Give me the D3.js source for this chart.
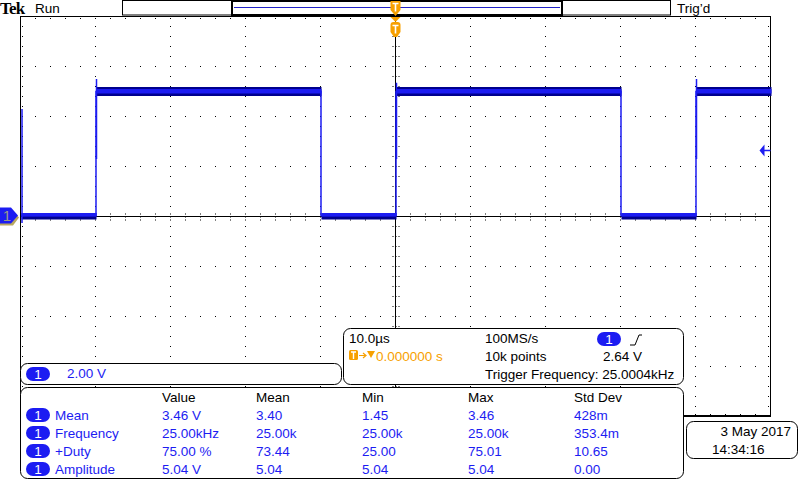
<!DOCTYPE html>
<html>
<head>
<meta charset="utf-8">
<script src="https://cdn.jsdelivr.net/npm/d3@7"></script>
<style>
body { margin: 0; background: #fff; }
svg text { font-family: "Liberation Sans", Arial, sans-serif; font-size: 13.5px; }
</style>
</head>
<body>
<svg id="scope" width="800" height="480"></svg>
<script>
// waveform (time in us, volts)
const waveT = [-50, -40, -10, 0, 30, 40, 50]
const waveV = [0.04, 5.0, 0.04, 5.0, 0.04, 5.0, 5.0]
const bandMax = [0.14, 5.18, 0.14, 5.18, 0.14, 5.18, 5.18]
const bandMin = [-0.12, 4.82, -0.12, 4.82, -0.12, 4.82, 4.82]
const innerMax = [0.14, 5.1, 0.14, 5.1, 0.14, 5.1, 5.1]
const innerMin = [0.0, 4.92, 0.0, 4.92, 0.0, 4.92, 4.92]
const riseT = [-40, 0, 40]
const overshootV = [5.5, 5.35, 5.5]
const startGlitch = [-0.26, 4.3]
const trigLevel = 2.64

// axes: 10 div x 10us, 8 div x 2V
const timeTicks = d3.range(-50, 51, 10)
const voltTicks = d3.range(-8, 9, 2)

// measurement table
const measCols = ["Value", "Mean", "Min", "Max", "Std Dev"]
const measNames = ["Mean", "Frequency", "+Duty", "Amplitude"]
const measValue = ["3.46 V", "25.00kHz", "75.00 %", "5.04 V"]
const measMean = ["3.40", "25.00k", "73.44", "5.04"]
const measMin = ["1.45", "25.00k", "25.00", "5.04"]
const measMax = ["3.46", "25.00k", "75.01", "5.04"]
const measStd = ["428m", "353.4m", "10.65", "0.00"]

const BLUE = "#1c1cf2"
const NAVY = "#00008e"
const ORANGE = "#f7a000"

const svg = d3.select("#scope")

const x = d3.scaleLinear().domain([-50, 50]).range([20.5, 770.5])
const y = d3.scaleLinear().domain([-8, 8]).range([416.5, 16.5])

// ---------- graticule ----------
const grid = svg.append("g")
const minorT = d3.range(-50, 50.01, 2)
const minorV = d3.range(-8, 8.01, 0.4)

// dotted division lines
timeTicks.slice(1, -1).forEach(t => {
    if (t === 0) return
    minorV.forEach(v => grid.append("rect").attr("x", Math.floor(x(t))).attr("y", Math.floor(y(v))).attr("width", 1).attr("height", 1))
})
voltTicks.slice(1, -1).forEach(v => {
    if (v === 0) return
    minorT.forEach(t => grid.append("rect").attr("x", Math.floor(x(t))).attr("y", Math.floor(y(v))).attr("width", 1).attr("height", 1))
})
// ticks along the border
minorT.forEach(t => {
    grid.append("rect").attr("x", Math.floor(x(t))).attr("y", Math.floor(y(8)) + 2).attr("width", 1).attr("height", 1)
    grid.append("rect").attr("x", Math.floor(x(t))).attr("y", Math.floor(y(-8)) - 2).attr("width", 1).attr("height", 1)
})
minorV.forEach(v => {
    grid.append("rect").attr("x", Math.floor(x(-50)) + 2).attr("y", Math.floor(y(v))).attr("width", 1).attr("height", 1)
    grid.append("rect").attr("x", Math.floor(x(50)) - 2).attr("y", Math.floor(y(v))).attr("width", 1).attr("height", 1)
})
// center cross with ticks
grid.append("line").attr("x1", x(-50)).attr("x2", x(50)).attr("y1", y(0)).attr("y2", y(0)).attr("stroke", "#000")
grid.append("line").attr("x1", x(0)).attr("x2", x(0)).attr("y1", y(8)).attr("y2", y(-8)).attr("stroke", "#000")
minorT.forEach(t => {
    grid.append("line").attr("x1", x(t)).attr("x2", x(t)).attr("y1", y(0) - 3).attr("y2", y(0) + 4)
        .attr("stroke", "#000").attr("stroke-dasharray", "1,2")
})
minorV.forEach(v => {
    grid.append("line").attr("y1", y(v)).attr("y2", y(v)).attr("x1", x(0) - 3).attr("x2", x(0) + 4)
        .attr("stroke", "#000").attr("stroke-dasharray", "1,2")
})
// border
grid.append("rect").attr("x", x(-50)).attr("y", y(8)).attr("width", x(50) - x(-50)).attr("height", y(-8) - y(8))
    .attr("fill", "none").attr("stroke", "#000")
grid.append("line").attr("x1", x(-50)).attr("x2", x(50)).attr("y1", y(-8) - 1).attr("y2", y(-8) - 1).attr("stroke", "#000")

// ---------- waveform ----------
const pts = waveT.map((t, i) => ({t, v: waveV[i], hi: bandMax[i], lo: bandMin[i], ih: innerMax[i], il: innerMin[i]}))
const wave = svg.append("g")
wave.append("path").datum(pts)
    .attr("d", d3.area().curve(d3.curveStepAfter).x(d => x(d.t) + 1).y0(d => y(d.lo)).y1(d => y(d.hi)))
    .attr("fill", NAVY)
wave.append("path").datum(pts)
    .attr("d", d3.area().curve(d3.curveStepAfter).x(d => x(d.t) + 1).y0(d => y(d.il)).y1(d => y(d.ih)))
    .attr("fill", BLUE)
wave.append("path").datum(pts)
    .attr("d", d3.line().curve(d3.curveStepAfter).x(d => x(d.t) + 0.5).y(d => y(d.v)))
    .attr("fill", "none").attr("stroke", BLUE).attr("stroke-width", 1.5)
riseT.forEach((t, i) => {
    wave.append("line").attr("x1", x(t) + 1).attr("x2", x(t) + 1).attr("y1", y(overshootV[i])).attr("y2", y(2.3))
        .attr("stroke", BLUE).attr("stroke-width", 1.5)
})
wave.append("line").attr("x1", x(-50) + 1.5).attr("x2", x(-50) + 1.5)
    .attr("y1", y(startGlitch[0])).attr("y2", y(startGlitch[1])).attr("stroke", BLUE).attr("stroke-width", 1.5)

// trigger level arrow at the right
const ty = y(trigLevel)
svg.append("path").attr("d", `M${x(50) - 11},${ty} L${x(50) - 6},${ty - 6} L${x(50) - 6},${ty + 6} Z`).attr("fill", BLUE)
svg.append("line").attr("x1", x(50) - 7).attr("x2", x(50)).attr("y1", ty).attr("y2", ty).attr("stroke", BLUE).attr("stroke-width", 1.5)

// channel 1 ground marker
const gy = y(0)
svg.append("path").attr("d", `M0,${gy - 7} L12,${gy - 7} L19,${gy + 1} L13,${gy + 9} L0,${gy + 9} Z`).attr("fill", "#b8a860")
svg.append("path").attr("d", `M0,${gy - 9} L11,${gy - 9} L18,${gy - 1} L11,${gy + 7} L0,${gy + 7} Z`).attr("fill", BLUE)
svg.append("text").attr("x", 7).attr("y", gy + 4).attr("text-anchor", "middle").attr("fill", "#9a9a8a")
    .style("font-size", "15px").text("1")

// ---------- top bar ----------
svg.append("text").attr("x", 0).attr("y", 14).attr("fill", "#000")
    .style("font-family", "'Liberation Serif', serif").style("font-weight", "bold").style("font-size", "17px")
    .style("letter-spacing", "-0.8px").text("Tek")
svg.append("text").attr("x", 35).attr("y", 13).text("Run")
svg.append("text").attr("x", 677).attr("y", 13).text("Trig\u2019d")
svg.append("rect").attr("x", 122.5).attr("y", 0.5).attr("width", 548).attr("height", 14.5).attr("fill", "#fff").attr("stroke", "#000")
svg.append("rect").attr("x", 232).attr("y", 1).attr("width", 330).attr("height", 14).attr("fill", "none").attr("stroke", "#000").attr("stroke-width", 2)
svg.append("line").attr("x1", 234).attr("x2", 560).attr("y1", 7.5).attr("y2", 7.5).attr("stroke", "#2020c8")

// trigger position markers
const cx = x(0)
svg.append("path").attr("d", `M${cx - 5},1 L${cx + 5},1 L${cx + 5},10 L${cx},16 L${cx - 5},10 Z`).attr("fill", ORANGE)
svg.append("path").attr("d", `M${cx - 3},3.5 h6 M${cx},3.5 v8`).attr("stroke", "#fff").attr("stroke-width", 1.6)
svg.append("path").attr("d", `M${cx - 5},17 L${cx + 5},17 L${cx},22 Z`).attr("fill", ORANGE)
svg.append("path").attr("d", `M${cx - 5},25 Q${cx - 5},22 ${cx - 2},22 L${cx + 2},22 Q${cx + 5},22 ${cx + 5},25 L${cx + 5},32 L${cx + 1.5},37 L${cx - 1.5},37 L${cx - 5},32 Z`).attr("fill", ORANGE)
svg.append("path").attr("d", `M${cx - 3},25.5 h6 M${cx},25.5 v8`).attr("stroke", "#fff").attr("stroke-width", 1.6)

// ---------- readout boxes ----------
function pill(px, py) {
    svg.append("rect").attr("x", px).attr("y", py).attr("width", 24).attr("height", 14).attr("rx", 7).attr("fill", BLUE)
    svg.append("text").attr("x", px + 12).attr("y", py + 12).attr("text-anchor", "middle").attr("fill", "#fff").text("1")
}
function box(bx, by, w, h) {
    svg.append("rect").attr("x", bx + 0.5).attr("y", by + 0.5).attr("width", w).attr("height", h).attr("rx", 7)
        .attr("fill", "#fff").attr("stroke", "#000")
}

// horizontal / trigger box
box(343, 328, 340, 56)
svg.append("text").attr("x", 349).attr("y", 343).text("10.0\u00b5s")
svg.append("text").attr("x", 485).attr("y", 343).text("100MS/s")
pill(597, 332)
svg.append("path").attr("d", "M630,345 L635,345 L639,335 L642,335").attr("fill", "none").attr("stroke", "#000")
svg.append("rect").attr("x", 349).attr("y", 350).attr("width", 9).attr("height", 10).attr("rx", 1.5).attr("fill", ORANGE)
svg.append("path").attr("d", "M351,352 h5 M353.5,352 v7").attr("stroke", "#fff").attr("stroke-width", 1.4)
svg.append("path").attr("d", "M359,355.5 h6 M363,353 L366,355.5 L363,358").attr("fill", "none").attr("stroke", ORANGE).attr("stroke-width", 1.2)
svg.append("path").attr("d", "M367,351 L375,351 L371,358 Z").attr("fill", ORANGE)
svg.append("text").attr("x", 376).attr("y", 361).attr("fill", ORANGE).text("0.000000 s")
svg.append("text").attr("x", 485).attr("y", 361).text("10k points")
svg.append("text").attr("x", 603).attr("y", 361).text(trigLevel.toFixed(2) + " V")
svg.append("text").attr("x", 485).attr("y", 379).text("Trigger Frequency: 25.0004kHz")

// channel scale box
box(20, 363, 321, 21)
pill(26, 367)
svg.append("text").attr("x", 67).attr("y", 378).attr("fill", BLUE).text("2.00 V")

// measurement box
box(20, 387, 663, 91)
const colX = [162, 256, 362, 468, 574]
const rowY = d3.range(measNames.length).map(i => 420 + i * 18)
measCols.forEach((c, i) => svg.append("text").attr("x", colX[i]).attr("y", 402).text(c))
const cols = [measValue, measMean, measMin, measMax, measStd]
measNames.forEach((name, r) => {
    pill(26, rowY[r] - 12)
    svg.append("text").attr("x", 55).attr("y", rowY[r]).attr("fill", BLUE).text(name)
    cols.forEach((col, c) => svg.append("text").attr("x", colX[c]).attr("y", rowY[r]).attr("fill", BLUE).text(col[r]))
})

// date box
box(686, 421, 111, 37)
svg.append("text").attr("x", 791).attr("y", 436).attr("text-anchor", "end").text("3 May  2017")
svg.append("text").attr("x", 712).attr("y", 454).text("14:34:16")
</script>
</body>
</html>
